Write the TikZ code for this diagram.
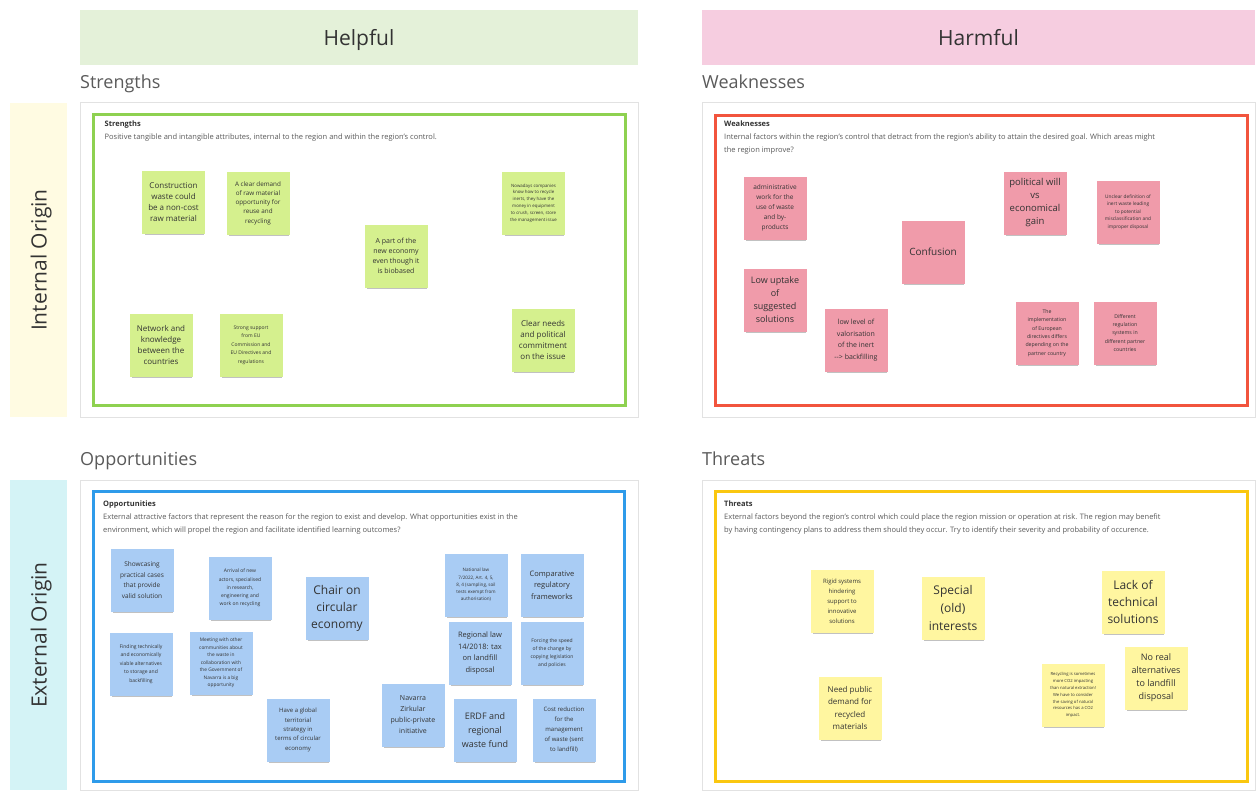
\documentclass[tikz,border=0pt]{standalone}
\usepackage{fontspec}
\setmainfont{Open Sans}
\usetikzlibrary{shadows}
\definecolor{helpfulbg}{HTML}{E4F1D9}
\definecolor{harmfulbg}{HTML}{F6CDE0}
\definecolor{internalbg}{HTML}{FFFBE2}
\definecolor{externalbg}{HTML}{D4F3F6}
\definecolor{panelline}{HTML}{E2E2E2}
\definecolor{framegreen}{HTML}{8ED150}
\definecolor{framered}{HTML}{F2543D}
\definecolor{frameblue}{HTML}{2E9BEA}
\definecolor{frameyellow}{HTML}{FAC710}
\definecolor{stgreen}{HTML}{D5F08E}
\definecolor{stpink}{HTML}{F09BAA}
\definecolor{stblue}{HTML}{A9CCF4}
\definecolor{styellow}{HTML}{FFF6A0}
\definecolor{inktext}{HTML}{333333}
\definecolor{greytext}{HTML}{5A5A5A}
\newcommand\fsz[2]{\fontsize{#1}{#2}\selectfont}
\tikzset{
  header/.style={minimum height=55pt, inner sep=0pt, text=inktext, font=\fsz{21}{25}, text height=16pt, text depth=0pt},
  sidebar/.style={rotate=90, minimum height=57pt, inner sep=0pt, text=inktext, font=\fsz{21}{25}, text height=16pt, text depth=0pt},
  secttitle/.style={anchor=west, inner sep=0pt, text=greytext, font=\fsz{18}{22}, text height=13.7pt, text depth=0pt},
  panel/.style={draw=panelline, line width=0.8pt, fill=white, inner sep=0pt},
  frame/.style={line width=3pt, inner sep=0pt},
  desc/.style={anchor=north west, inner sep=0pt, align=left, text=greytext, font=\fsz{7.5}{12.6}},
  note/.style={minimum width=63pt, minimum height=63pt, inner sep=1pt, align=center, text=inktext,
    drop shadow={shadow xshift=1pt, shadow yshift=-4pt, opacity=.4, fill=black!60, shadow scale=0.94}},
  gnote/.style={note, fill=stgreen},
  pnote/.style={note, fill=stpink},
  bnote/.style={note, fill=stblue},
  ynote/.style={note, fill=styellow},
}
\begin{document}
\begin{tikzpicture}[x=1pt,y=-1pt]
\useasboundingbox (0,0) rectangle (1260,790);
\fill[white] (0,0) rectangle (1260,790);

% headers
\node[header, fill=helpfulbg, minimum width=558pt] (helpful) at (359,37.5) {Helpful};
\node[header, fill=harmfulbg, minimum width=553pt] (harmful) at (978.5,37.5) {Harmful};
\node[sidebar, fill=internalbg, minimum width=314pt] (internal) at (38.5,260) {Internal Origin};
\node[sidebar, fill=externalbg, minimum width=310pt] (external) at (38.5,635) {External Origin};

% section titles
\node[secttitle] (tS) at (80,82) {Strengths};
\node[secttitle] (tW) at (702,82) {Weaknesses};
\node[secttitle] (tO) at (80,459) {Opportunities};
\node[secttitle] (tT) at (702,459) {Threats};

% panels
\node[panel, minimum width=558pt, minimum height=315pt] (pS) at (359,259.5) {};
\node[panel, minimum width=553pt, minimum height=315pt] (pW) at (978.5,259.5) {};
\node[panel, minimum width=558pt, minimum height=310pt] (pO) at (359,635) {};
\node[panel, minimum width=553pt, minimum height=310pt] (pT) at (978.5,635) {};

% frames
\node[frame, draw=framegreen, minimum width=532pt, minimum height=291pt] (fS) at (359,260) {};
\node[frame, draw=framered, minimum width=532pt, minimum height=290pt] (fW) at (981,260) {};
\node[frame, draw=frameblue, minimum width=531pt, minimum height=290pt] (fO) at (359,636) {};
\node[frame, draw=frameyellow, minimum width=532pt, minimum height=290pt] (fT) at (981,636) {};

% frame descriptions
\node[desc] (dS) at (104.5,121) {\textcolor{inktext}{\textbf{Strengths}}\\Positive tangible and intangible attributes, internal to the region and within the region's control.};
\node[desc] (dW) at (724,121) {\textcolor{inktext}{\textbf{Weaknesses}}\\Internal factors within the region's control that detract from the region's ability to attain the desired goal. Which areas might\\the region improve?};
\node[desc] (dO) at (103,501) {\textcolor{inktext}{\textbf{Opportunities}}\\External attractive factors that represent the reason for the region to exist and develop. What opportunities exist in the\\environment, which will propel the region and facilitate identified learning outcomes?};
\node[desc] (dT) at (724,501) {\textcolor{inktext}{\textbf{Threats}}\\External factors beyond the region's control which could place the region mission or operation at risk. The region may benefit\\by having contingency plans to address them should they occur. Try to identify their severity and probability of occurence.};

% Strengths notes
\node[gnote, font=\fsz{8}{11}] (s1) at (173.5,202) {Construction\\waste could\\be a non-cost\\raw material};
\node[gnote, font=\fsz{6.3}{9.2}] (s2) at (258,203) {A clear demand\\of raw material\\opportunity for\\reuse and\\recycling};
\node[gnote, font=\fsz{7}{10}] (s3) at (396,256) {A part of the\\new economy\\even though it\\is biobased};
\node[gnote, font=\fsz{4.4}{6.8}] (s4) at (533.5,203) {Nowadays companies\\know how to recycle\\inerts, they have the\\money in equipment\\to crush, screen, store\\the management issue};
\node[gnote, font=\fsz{8}{11}] (s5) at (543,340) {Clear needs\\and political\\commitment\\on the issue};
\node[gnote, font=\fsz{8}{11}] (s6) at (161,345) {Network and\\knowledge\\between the\\countries};
\node[gnote, font=\fsz{5}{8.4}] (s7) at (251,345) {Strong support\\from EU\\Commission and\\EU Directives and\\regulations};

% Weaknesses notes
\node[pnote, font=\fsz{6.5}{10}] (w1) at (775,208) {administrative\\work for the\\use of waste\\and by-\\products};
\node[pnote, font=\fsz{9}{13}] (w2) at (775,300) {Low uptake\\of\\suggested\\solutions};
\node[pnote, font=\fsz{7}{11.5}] (w3) at (856,340) {low level of\\valorisation\\of the inert\\{-}{-}> backfilling};
\node[pnote, font=\fsz{10}{13}] (w4) at (933,252) {Confusion};
\node[pnote, font=\fsz{9.5}{13}] (w5) at (1035,203) {political will\\vs\\economical\\gain};
\node[pnote, font=\fsz{4.8}{7.6}] (w6) at (1128,212) {Unclear definition of\\inert waste leading\\to potential\\misclassification and\\improper disposal};
\node[pnote, font=\fsz{5.2}{8.4}] (w7) at (1047,333) {The\\implementation\\of European\\directives differs\\depending on the\\partner country};
\node[pnote, font=\fsz{5.2}{8.4}] (w8) at (1125,333) {Different\\regulation\\systems in\\different partner\\countries};

% Opportunities notes
\node[bnote, font=\fsz{6.5}{10.4}] (o1) at (142,580) {Showcasing\\practical cases\\that provide\\valid solution};
\node[bnote, font=\fsz{5}{8.3}] (o2) at (240,588) {Arrival of new\\actors, specialised\\in research,\\engineering and\\work on recycling};
\node[bnote, font=\fsz{12}{17}] (o3) at (337,608) {Chair on\\circular\\economy};
\node[bnote, font=\fsz{5}{8.5}] (o4) at (141,664) {Finding technically\\and economically\\viable alternatives\\to storage and\\backfilling};
\node[bnote, font=\fsz{4.8}{7.5}] (o5) at (221,663) {Meeting with other\\communities about\\the waste in\\collaboration with\\the Government of\\Navarra is a big\\opportunity};
\node[bnote, font=\fsz{6}{9.3}] (o6) at (298,730) {Have a global\\territorial\\strategy in\\terms of circular\\economy};
\node[bnote, font=\fsz{4.6}{7.3}] (o7) at (476,585) {National law\\7/2022, Art. 4, 5,\\8, 4 (sampling, soil\\tests exempt from\\authorisation)};
\node[bnote, font=\fsz{7.5}{11.7}] (o8) at (552,585) {Comparative\\regulatory\\frameworks};
\node[bnote, font=\fsz{7.5}{11.5}] (o9) at (480,653) {Regional law\\14/2018: tax\\on landfill\\disposal};
\node[bnote, font=\fsz{5}{8.2}] (o10) at (552,653) {Forcing the speed\\of the change by\\copying legislation\\and policies};
\node[bnote, font=\fsz{7}{11}] (o11) at (413,715) {Navarra\\Zirkular\\public-private\\initiative};
\node[bnote, font=\fsz{9}{14}] (o12) at (485,730) {ERDF and\\regional\\waste fund};
\node[bnote, font=\fsz{6}{10}] (o13) at (564,730) {Cost reduction\\for the\\management\\of waste (sent\\to landfill)};

% Threats notes
\node[ynote, font=\fsz{6}{10}] (t1) at (842,601) {Rigid systems\\hindering\\support to\\innovative\\solutions};
\node[ynote, font=\fsz{12}{18}] (t2) at (953,608) {Special\\(old)\\interests};
\node[ynote, font=\fsz{8}{12.2}] (t3) at (850,708) {Need public\\demand for\\recycled\\materials};
\node[ynote, font=\fsz{12}{17}] (t4) at (1133,602) {Lack of\\technical\\solutions};
\node[ynote, font=\fsz{9}{13}] (t5) at (1156,678) {No real\\alternatives\\to landfill\\disposal};
\node[ynote, font=\fsz{4.2}{6.9}] (t6) at (1073,695) {Recycling is sometimes\\more CO2 impacting\\than natural extraction!\\We have to consider\\the saving of natural\\resources has a CO2\\impact.};
\end{tikzpicture}
\end{document}
